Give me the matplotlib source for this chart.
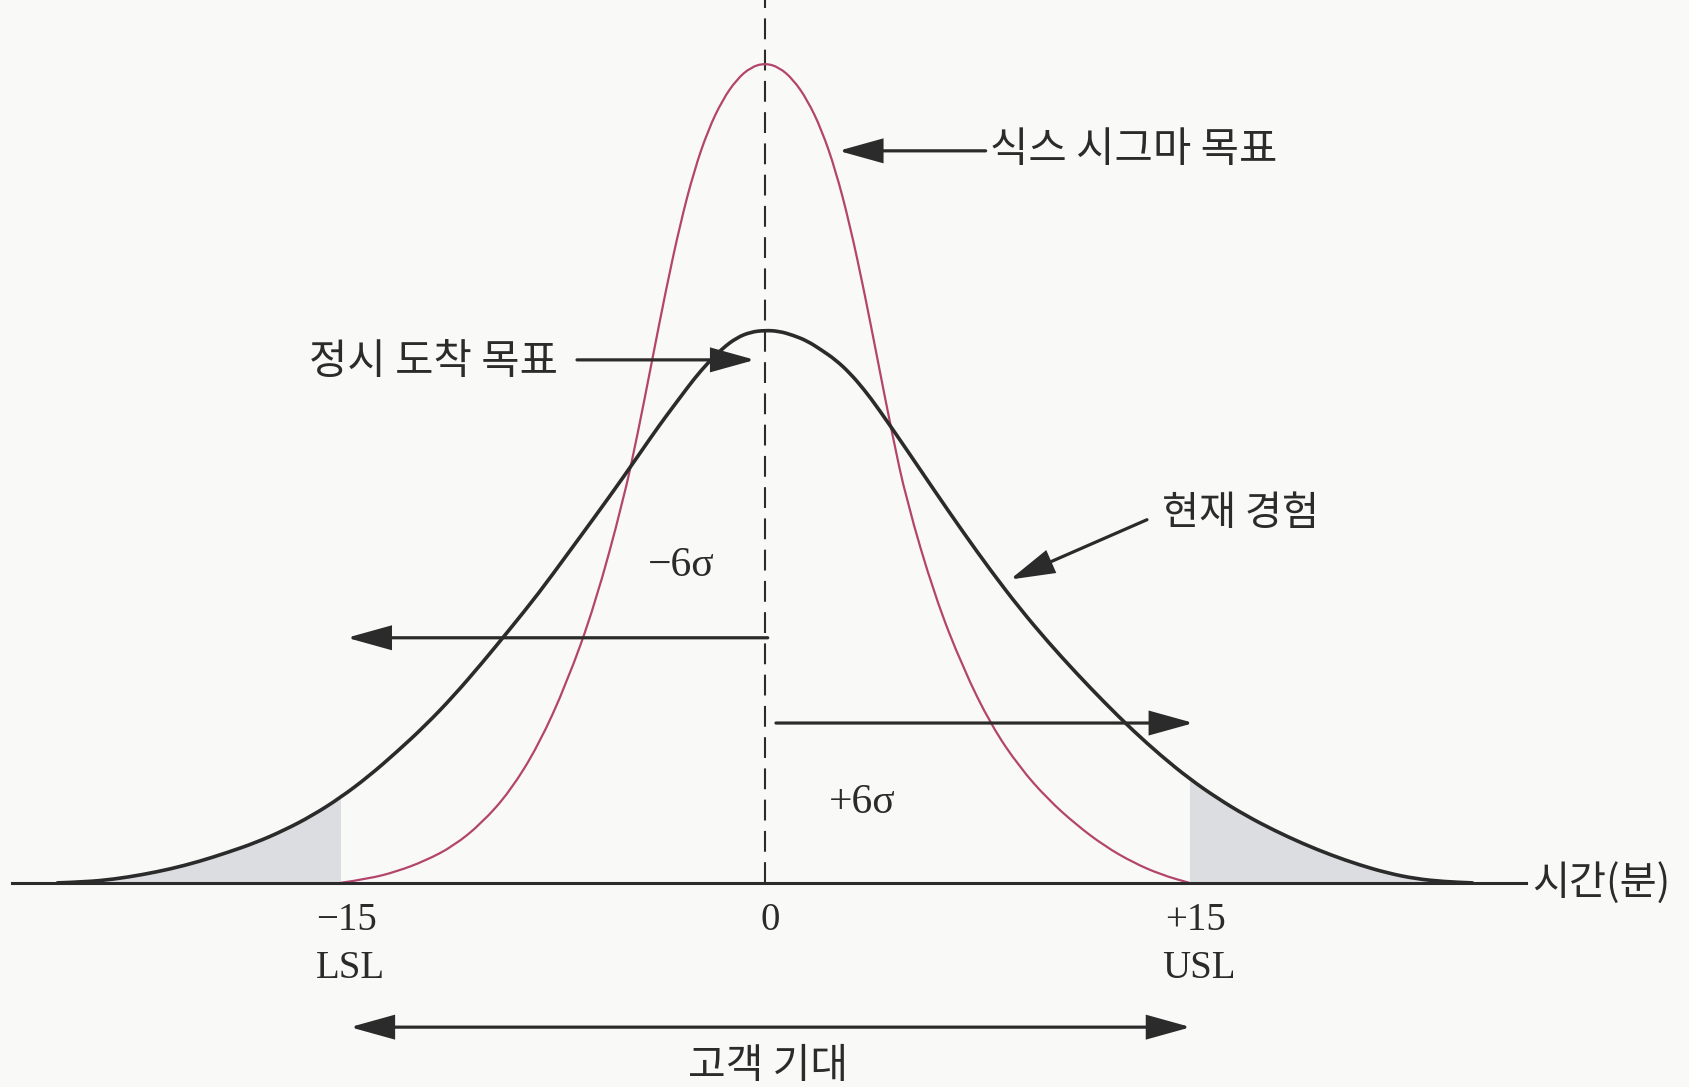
import matplotlib.pyplot as plt
from matplotlib.patches import FancyArrowPatch, PathPatch
from matplotlib.path import Path


# arrival time deviation (minutes) and relative curve heights
CURRENT_MINUTES = [-25, -24, -23, -22, -21, -20, -19, -18, -17, -16, -15, -14, -13,
                   -12, -11, -10, -9, -8, -7, -6, -5, -4, -3.5, -3, -2.5, -2, -1.5,
                   -1, -0.5, 0, 0.5, 1, 1.5, 2, 2.5, 3, 3.5, 4, 5, 6, 7, 8, 9, 10,
                   11, 12, 13, 14, 15, 16, 17, 18, 19, 20, 21, 22, 23, 24, 25]
CURRENT = [0.0, 0.0012, 0.0045, 0.010, 0.017, 0.026, 0.037, 0.049, 0.064, 0.082,
           0.104, 0.130, 0.160, 0.192, 0.228, 0.268, 0.310, 0.353, 0.400, 0.447,
           0.495, 0.545, 0.569, 0.592, 0.615, 0.635, 0.652, 0.665, 0.672, 0.674,
           0.673, 0.668, 0.661, 0.650, 0.638, 0.622, 0.602, 0.579, 0.529, 0.478,
           0.428, 0.380, 0.335, 0.294, 0.256, 0.220, 0.186, 0.155, 0.127, 0.103,
           0.082, 0.064, 0.048, 0.034, 0.022, 0.012, 0.005, 0.0015, 0.0]

TARGET_MINUTES = [-15, -14, -13, -12, -11, -10, -9, -8, -7, -6, -5, -4.5, -4, -3.5,
                  -3, -2.5, -2, -1.5, -1, -0.5, 0, 0.5, 1, 1.5, 2, 2.5, 3, 3.5, 4,
                  4.5, 5, 6, 7, 8, 9, 10, 11, 12, 13, 14, 15]
TARGET = [0.0, 0.005, 0.014, 0.027, 0.045, 0.073, 0.112, 0.168, 0.244, 0.340,
          0.467, 0.547, 0.635, 0.723, 0.803, 0.869, 0.919, 0.955, 0.980, 0.995,
          1.0, 0.995, 0.980, 0.955, 0.919, 0.869, 0.803, 0.723, 0.635, 0.547,
          0.467, 0.350, 0.262, 0.192, 0.141, 0.102, 0.071, 0.045, 0.025, 0.010,
          0.0]

SPEC_LIMITS = [-15, 15]
SPEC_NAMES = ['LSL', 'USL']
TICK_VALUES = [-15, 0, 15]
TICK_LABELS = ['\u221215', '0', '+15']

BG = '#f9f9f8'
INK = '#2b2b2b'
RED = '#b3456c'
SHADE = '#dcdde1'
KO = ['Noto Sans CJK KR', 'DejaVu Sans']
SERIF = ['Liberation Serif', 'DejaVu Serif']


def curve(xs, ys):
    # smooth pen stroke through the read points (quadratic segments between midpoints)
    pts = list(zip(xs, ys))
    verts = [pts[0]]
    codes = [Path.MOVETO]
    for i in range(1, len(pts) - 1):
        mid = ((pts[i][0] + pts[i + 1][0]) / 2, (pts[i][1] + pts[i + 1][1]) / 2)
        verts += [pts[i], mid]
        codes += [Path.CURVE3, Path.CURVE3]
    verts.append(pts[-1])
    codes.append(Path.LINETO)
    return Path(verts, codes)


def arrow(ax, start, end, style='-|>'):
    ax.add_patch(FancyArrowPatch(start, end,
                                 arrowstyle=f'{style},head_length=27,head_width=7.5',
                                 mutation_scale=1, lw=2.3, color=INK,
                                 shrinkA=0, shrinkB=0, joinstyle='miter', zorder=5))


def main():
    fig = plt.figure(figsize=(16.9, 10.87), dpi=100, facecolor=BG)
    ax = fig.add_axes([0, 0, 1, 1])
    ax.set_facecolor(BG)
    ax.set_xlim(-27.03, 32.69)
    ax.set_ylim(-0.249, 1.077)
    ax.axis('off')

    # shaded tails of the current distribution outside the spec limits
    lo, hi = SPEC_LIMITS
    ax.fill_between(CURRENT_MINUTES, 0, CURRENT,
                    where=[m <= lo for m in CURRENT_MINUTES], color=SHADE, lw=0, zorder=1)
    ax.fill_between(CURRENT_MINUTES, 0, CURRENT,
                    where=[m >= hi for m in CURRENT_MINUTES], color=SHADE, lw=0, zorder=1)

    ax.add_patch(PathPatch(curve(TARGET_MINUTES, TARGET), fill=False,
                           edgecolor=RED, lw=1.6, zorder=3))
    ax.add_patch(PathPatch(curve(CURRENT_MINUTES, CURRENT), fill=False,
                           edgecolor=INK, lw=2.6, zorder=4, capstyle='round'))

    # time axis and center line
    ax.plot([-26.6, 26.9], [0, 0], color=INK, lw=2.2, zorder=4)
    ax.plot([0, 0], [0, 1.08], color=INK, lw=1.5, ls=(0, (10, 5)), zorder=2)
    ax.text(27.1, 0.0, '시간(분)', family=KO, fontsize=29, color=INK,
            ha='left', va='center')

    for val, lab in zip(TICK_VALUES, TICK_LABELS):
        ax.text(val + 0.2, -0.046, lab, family=SERIF, fontsize=28, color=INK,
                ha='center', va='center')
    for val, name in zip(SPEC_LIMITS, SPEC_NAMES):
        ax.text(val + 0.35, -0.104, name, family=SERIF, fontsize=28, color=INK,
                ha='center', va='center')

    # sigma arrows
    arrow(ax, (0.1, 0.299), (-14.77, 0.299))
    ax.text(-2.97, 0.387, '\u22126\u03c3', family=SERIF, fontsize=30, color=INK,
            ha='center', va='center')
    arrow(ax, (0.39, 0.195), (15.15, 0.195))
    ax.text(3.43, 0.098, '+6\u03c3', family=SERIF, fontsize=30, color=INK,
            ha='center', va='center')

    # customer expectation
    arrow(ax, (-14.66, -0.176), (15.05, -0.176), style='<|-|>')
    ax.text(0.1, -0.224, '고객 기대', family=KO, fontsize=29.5, color=INK,
            ha='center', va='center')

    # callouts
    ax.text(7.95, 0.893, '식스 시그마 목표', family=KO, fontsize=30, color=INK,
            ha='left', va='center')
    arrow(ax, (7.8, 0.893), (2.6, 0.893))
    ax.text(-7.3, 0.635, '정시 도착 목표', family=KO, fontsize=30, color=INK,
            ha='right', va='center')
    arrow(ax, (-6.64, 0.638), (-0.35, 0.638))
    ax.text(14.03, 0.45, '현재 경험', family=KO, fontsize=29, color=INK,
            ha='left', va='center')
    arrow(ax, (13.5, 0.443), (8.66, 0.370))

    fig.savefig('out.png', dpi=100, facecolor=BG)


if __name__ == '__main__':
    main()
